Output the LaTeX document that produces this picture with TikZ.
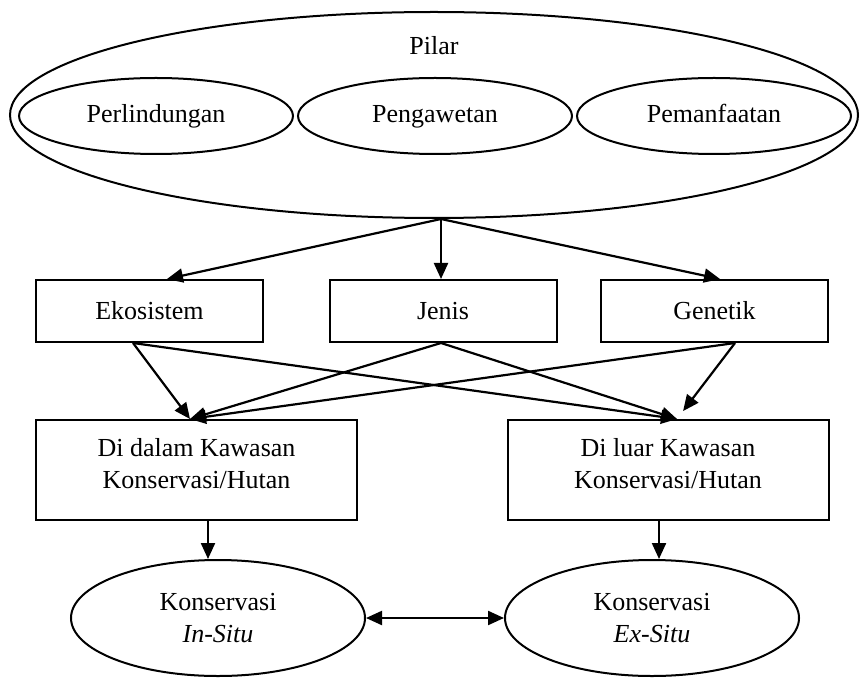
\documentclass[tikz,border=0pt]{standalone}
\usepackage{fontspec}
\setmainfont{Liberation Serif}
\usetikzlibrary{shapes.geometric,arrows.meta}
\tikzset{
  every node/.style={font=\fontsize{13}{16}\selectfont},
  box/.style={draw, rectangle, line width=1pt, minimum width=113.5pt, minimum height=31pt, inner sep=0pt},
  widebox/.style={draw, rectangle, line width=1pt, minimum width=160.5pt, minimum height=50pt, inner sep=0pt, align=center, text depth=7pt},
  oval/.style={draw, ellipse, line width=1pt, minimum width=137pt, minimum height=38pt, inner sep=0pt, text depth=0.22em},
  bigoval/.style={draw, ellipse, line width=1pt, minimum width=424pt, minimum height=103pt, inner sep=0pt},
  endoval/.style={draw, ellipse, line width=1pt, minimum width=147pt, minimum height=58pt, inner sep=0pt, align=center},
  arr/.style={line width=1.1pt, -{Triangle[length=8pt,width=7pt]}},
}
\begin{document}
\begin{tikzpicture}[x=0.5pt,y=-0.5pt]
  \useasboundingbox (0,0) rectangle (860,678);
  % pilar
  \node[bigoval] (pilar) at (434,115) {};
  \node (pilartxt) at (434,46) {Pilar};
  \node[oval] (perl) at (156,116) {Perlindungan};
  \node[oval] (peng) at (435,116) {Pengawetan};
  \node[oval] (peman) at (714,116) {Pemanfaatan};
  % tingkat
  \node[box] (eko) at (149.5,311) {Ekosistem};
  \node[box] (jenis) at (443,311) {Jenis};
  \node[box] (gen) at (714.5,311) {Genetik};
  % kawasan
  \node[widebox] (dalam) at (196.5,470) {Di dalam Kawasan\\Konservasi/Hutan};
  \node[widebox] (luar) at (668,470) {Di luar Kawasan\\Konservasi/Hutan};
  % konservasi
  \node[endoval] (insitu) at (218,618) {Konservasi\\\textit{In-Situ}};
  \node[endoval] (exsitu) at (652,618) {Konservasi\\\textit{Ex-Situ}};
  \coordinate (pilarS) at ([xshift=3.5pt]pilar.south);
  \begin{scope}[arr]
    \draw (pilarS) to ([xshift=8.75pt]eko.north);
    \draw (pilarS) to (pilarS |- jenis.north);
    \draw (pilarS) to ([xshift=2.75pt]gen.north);
    \draw ([xshift=-8.25pt]eko.south) to ([xshift=-3.25pt]dalam.north);
    \draw ([xshift=-8.25pt]eko.south) to ([xshift=4.5pt]luar.north);
    \draw ([xshift=-1pt]jenis.south) to ([xshift=-3.25pt]dalam.north);
    \draw ([xshift=-1pt]jenis.south) to ([xshift=4.5pt]luar.north);
    \draw ([xshift=10.25pt]gen.south) to ([xshift=-3.25pt]dalam.north);
    \draw[shorten >=5pt] ([xshift=10.25pt]gen.south) to ([xshift=4.5pt]luar.north);
    \draw ([xshift=5.75pt]dalam.south) to ([xshift=5.75pt]dalam.south |- insitu.north);
    \draw ([xshift=-4.5pt]luar.south) to ([xshift=-4.5pt]luar.south |- exsitu.north);
    \draw[{Triangle[length=8pt,width=7pt]}-{Triangle[length=8pt,width=7pt]}] (insitu.east) to (exsitu.west);
  \end{scope}
\end{tikzpicture}
\end{document}
